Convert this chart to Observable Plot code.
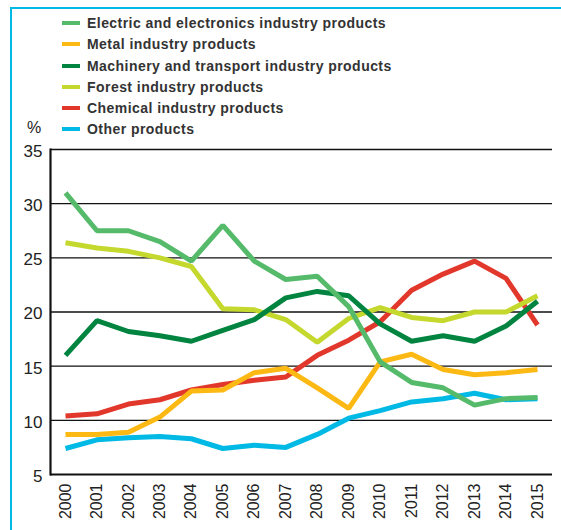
<!DOCTYPE html>
<html>
<head>
<meta charset="utf-8">
<script src="https://cdn.jsdelivr.net/npm/d3@7"></script>
<script src="https://cdn.jsdelivr.net/npm/@observablehq/plot@0.6"></script>
<style>
  html, body { margin: 0; padding: 0; background: #fff; }
  #wrap { position: relative; width: 561px; height: 530px; overflow: hidden; font-family: "Liberation Sans", Arial, sans-serif; }
  #frame { position: absolute; left: 10px; top: 7px; right: 0; bottom: 0; border-left: 2px solid #00b9e4; border-top: 2px solid #00b9e4; }
  #legend { position: absolute; left: 0; top: 0; }
  .row { position: absolute; left: 62px; height: 20px; white-space: nowrap; }
  .sw { position: absolute; left: 0; width: 18px; height: 4px; top: 8px; }
  .lab { position: absolute; left: 25px; top: 0; line-height: 20px; font-size: 14px; font-weight: bold; color: #333; letter-spacing: 0.45px; }
  #unit { position: absolute; left: 27px; top: 119px; font-size: 16px; color: #222; }
  #chart { position: absolute; left: 0; top: 140px; }
</style>
</head>
<body>
<div id="wrap">
  <div id="frame"></div>
  <div id="legend"></div>
  <div id="unit">%</div>
  <div id="chart"></div>
</div>
<script>
const years = [2000, 2001, 2002, 2003, 2004, 2005, 2006, 2007, 2008, 2009, 2010, 2011, 2012, 2013, 2014, 2015];
const seriesNames = [
  "Electric and electronics industry products",
  "Metal industry products",
  "Machinery and transport industry products",
  "Forest industry products",
  "Chemical industry products",
  "Other products"
];
const seriesColors = ["#55bb6b", "#fdb913", "#00843f", "#c4d82e", "#e2382c", "#00b9e4"];
const electric  = [31.0, 27.5, 27.5, 26.5, 24.7, 28.0, 24.7, 23.0, 23.3, 20.5, 15.4, 13.5, 13.0, 11.4, 12.0, 12.1];
const metal     = [8.7, 8.7, 8.9, 10.3, 12.7, 12.8, 14.4, 14.8, 13.0, 11.1, 15.4, 16.1, 14.7, 14.2, 14.4, 14.7];
const machinery = [16.0, 19.2, 18.2, 17.8, 17.3, 18.3, 19.3, 21.3, 21.9, 21.5, 18.9, 17.3, 17.8, 17.3, 18.7, 21.0];
const forest    = [26.4, 25.9, 25.6, 25.0, 24.2, 20.3, 20.2, 19.3, 17.2, 19.4, 20.4, 19.5, 19.2, 20.0, 20.0, 21.5];
const chemical  = [10.4, 10.6, 11.5, 11.9, 12.8, 13.3, 13.7, 14.0, 16.0, 17.4, 19.1, 22.0, 23.5, 24.7, 23.1, 18.8];
const other     = [7.4, 8.2, 8.4, 8.5, 8.3, 7.4, 7.7, 7.5, 8.7, 10.2, 10.9, 11.7, 12.0, 12.5, 11.9, 12.0];
const yTicks = [5, 10, 15, 20, 25, 30, 35];
const gridValues = [10, 15, 20, 25, 30, 35];

const allValues = [electric, metal, machinery, forest, chemical, other];
const data = [];
// build in reverse so the first legend series is drawn last (on top)
for (let i = seriesNames.length - 1; i >= 0; i--) {
  years.forEach((yr, j) => data.push({series: seriesNames[i], year: yr, value: allValues[i][j]}));
}

// legend (HTML)
const legend = document.getElementById("legend");
const rowTops = [13, 34, 56, 77, 98, 119];
seriesNames.forEach((name, i) => {
  const row = document.createElement("div");
  row.className = "row";
  row.style.top = rowTops[i] + "px";
  const sw = document.createElement("span");
  sw.className = "sw";
  sw.style.background = seriesColors[i];
  const lab = document.createElement("span");
  lab.className = "lab";
  lab.textContent = name;
  row.appendChild(sw);
  row.appendChild(lab);
  legend.appendChild(row);
});

const chart = Plot.plot({
  width: 561,
  height: 390,
  marginTop: 9,
  marginBottom: 56,
  marginLeft: 50,
  marginRight: 9,
  style: {fontFamily: "'Liberation Sans', Arial, sans-serif", background: "transparent", color: "#222"},
  x: {domain: [2000, 2015], insetLeft: 15, insetRight: 15, label: null},
  y: {domain: [5, 35], label: null},
  color: {domain: seriesNames, range: seriesColors},
  marks: [
    Plot.ruleY(gridValues, {stroke: "#111", strokeWidth: 1.4}),
    Plot.ruleY([5], {stroke: "#111", strokeWidth: 2.2}),
    Plot.frame({anchor: "left", stroke: "#111", strokeWidth: 2.2}),
    Plot.axisY({ticks: yTicks, tickSize: 0, tickPadding: 8, fontSize: 17, dy: 2, label: null}),
    Plot.axisX({ticks: years, tickFormat: d => String(d), tickRotate: -90, tickSize: 0, tickPadding: 9, fontSize: 16, label: null}),
    Plot.line(data, {
      x: "year", y: "value", z: "series", stroke: "series",
      strokeWidth: 5, strokeLinejoin: "miter", strokeLinecap: "butt"
    })
  ]
});
document.getElementById("chart").appendChild(chart);
</script>
</body>
</html>
